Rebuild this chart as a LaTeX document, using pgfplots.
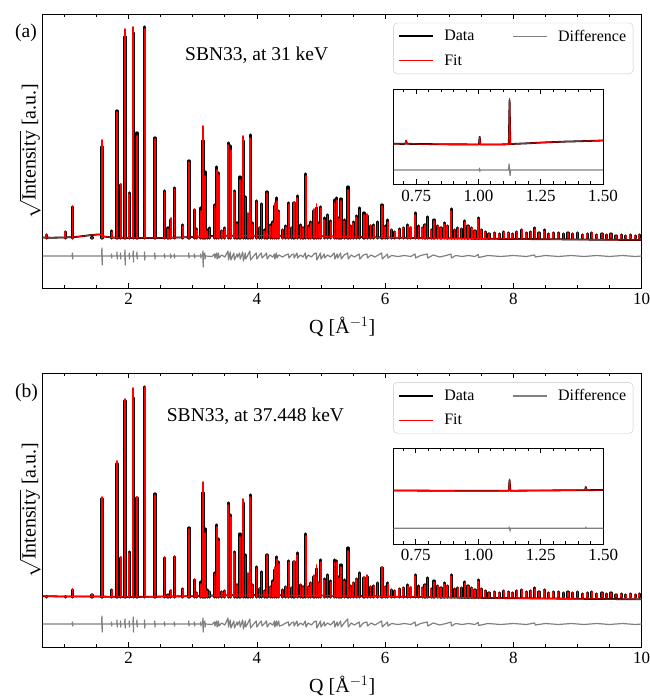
\documentclass[border=0pt]{standalone}
\usepackage{fontspec}
\setmainfont{Liberation Serif}
\usepackage{pgfplots}
\usepackage{pgfplotstable}
\pgfplotsset{compat=1.18}
\definecolor{fitred}{rgb}{1,0,0}
\definecolor{diffgray}{rgb}{0.5,0.5,0.5}

\pgfplotstableread{
Q Da Fa Db Fb
0.714 3 3.5 0.5 0.5
1.010 6 6.5 0.5 0.5
1.125 31 32 7 8
1.430 0.5 0.5 2 2.5
1.585 91 98 98 100
1.735 7 6 7 7
1.820 127 126 133 136
1.875 53 54 39 40
1.944 201 209 196 198
2.011 45 44 45 44
2.073 205 211 199 209
2.131 105 102 99 100
2.250 211 209 210 210
2.410 100 99 103 102
2.560 47 46 39 40
2.615 10 9 2 2
2.656 18 20 6 7
2.714 50 49 40 41
2.844 13 12 8 8
2.940 77 76 69 68
3.027 28 29 17 18
3.063 9 8 4 4
3.125 30 27 15 13
3.160 97 112 104 115
3.190 66 62 68 64
3.225 8 7 7 6
3.260 10 9 5 5
3.340 33 32 24 23
3.375 71 68 72 70
3.406 65 63 58 56
3.450 7 7 5 5
3.500 10 9 6 6
3.553 95 93 94 92
3.590 92 88 82 80
3.647 47 46 45 44
3.690 15 14 12 12
3.735 61 58 63 60
3.787 97 102 94 98
3.823 41 40 42 40
3.860 22 25 20 24
3.896 103 100 102 100
3.930 15 14 12 12
3.995 37 36 30 29
4.040 10 11 8 9
4.073 34 33 25 24
4.115 8 7 6 6
4.156 46 45 42 42
4.210 13 12 10 10
4.245 16 15 16 15
4.277 32 35 27 30
4.308 40 37 40 38
4.340 27 26 35 33
4.400 8 8 7 7
4.450 12 11 10 10
4.495 35 34 36 35
4.540 10 10 9 9
4.578 35 36 35 36
4.630 42 40 44 42
4.680 13 12 12 12
4.720 10 10 10 10
4.760 64 62 63 61
4.810 12 11 10 10
4.840 16 15 14 14
4.890 27 29 20 22
4.930 30 34 28 32
4.965 15 14 14 14
4.995 31 30 37 35
5.050 20 18 18 17
5.100 23 22 22 21
5.150 17 16 16 15
5.210 38 36 37 35
5.245 40 38 36 35
5.280 20 19 20 19
5.310 39 37 32 30
5.360 18 17 17 16
5.420 51 48 49 46
5.460 12 12 11 11
5.500 16 15 14 14
5.550 22 21 18 18
5.600 30 28 24 23
5.670 25 23 19 20
5.720 22 24 20 22
5.770 12 13 10 11
5.820 13 12 11 11
5.880 16 15 14 14
5.950 33 32 29 30
6.000 12 11 10 10
6.040 18 16 14 13
6.100 8 8 7 7
6.150 6 6 6 6
6.220 9 8 8 8
6.280 10 10 9 9
6.350 13 12 12 11
6.400 10 11 9 10
6.470 25 23 22 21
6.520 12 11 11 10
6.580 10 10 9 9
6.620 13 13 12 12
6.660 21 20 19 18
6.720 8 8 8 8
6.760 18 17 16 15
6.820 12 12 11 11
6.870 10 10 9 9
6.920 15 14 14 13
6.970 12 12 11 11
7.030 29 27 22 21
7.080 8 8 8 8
7.130 10 10 9 9
7.190 9 9 9 9
7.240 17 16 15 14
7.290 12 12 11 11
7.350 10 10 9 9
7.400 7 7 7 7
7.450 20 19 17 16
7.500 8 8 8 8
7.560 6 6 6 6
7.620 4 4 4 4
7.700 5 5 5 5
7.780 4 4 4 4
7.850 6 6 6 6
7.920 5 5 5 5
7.980 4 4 4 4
8.050 6 6 6 6
8.130 8 8 7 7
8.200 5 5 5 5
8.270 6 6 6 6
8.330 10 9 9 8
8.400 5 5 5 5
8.480 8 7 7 7
8.550 4 4 4 4
8.620 5 5 5 5
8.700 5 5 5 5
8.780 4 4 4 4
8.850 5 5 5 5
8.920 4 4 4 4
9.000 5 5 5 5
9.080 3 3 3 3
9.150 4 4 4 4
9.220 5 5 5 5
9.300 3 3 3 3
9.380 4 4 4 4
9.450 3 3 3 3
9.520 4 4 4 4
9.600 2 2 2 2
9.680 3 3 3 3
9.750 2 2 2 2
9.820 3 3 3 3
9.900 2 2 2 2
9.960 3 3 3 3
}\peaks

\pgfplotsset{
  base/.style={
    scale only axis,
    axis line style={line width=0.9pt},
    every tick/.style={black, line width=0.8pt},
    major tick length=5pt, minor tick length=3pt,
    tick align=inside, xtick pos=both, xticklabel pos=lower,
    ytick=\empty,
    tick label style={font=\fontsize{17}{20}\selectfont},
    xticklabel style={yshift=-2pt},
    /pgf/number format/assume math mode=true,
  },
  mainax/.style={base,
    width=599pt, height=274pt,
    xmin=0.66, xmax=10, ymin=-50, ymax=224,
    xtick={2,4,6,8,10},
    minor xtick={1,1.5,2.5,3,3.5,4.5,5,5.5,6.5,7,7.5,8.5,9,9.5},
    xlabel={Q [Å$^{-1}$]},
    xlabel style={font=\fontsize{20}{24}\selectfont, at={(axis description cs:0.5,-0.142)}, anchor=center},
    ylabel={$\sqrt{\mbox{Intensity}}$ [a.u.]},
    ylabel style={font=\fontsize{20}{24}\selectfont, inner sep=0pt, at={(axis description cs:-0.0396,0.5)}, anchor=north},
    legend columns=2, transpose legend, legend cell align=left,
    legend image code/.code={\draw[##1] (0pt,0pt) -- (34pt,0pt);},
    legend style={anchor=north east, draw=black!22, rounded corners=4pt,
      fill=white, text=black, font=\fontsize{16}{19}\selectfont, inner xsep=5pt, inner ysep=5pt, row sep=8pt,
      /tikz/every odd column/.append style={column sep=8pt},
      /tikz/every even column/.append style={column sep=36pt}},
  },
  insetax/.style={base,
    xmin=0.66, xmax=1.5,
    xtick={0.75,1,1.25,1.5}, xticklabels={0.75,1.00,1.25,1.50},
    minor xtick={0.7,0.8,0.85,0.9,0.95,1.05,1.1,1.15,1.2,1.3,1.35,1.4,1.45},
    axis background/.style={fill=white},
  },
  stickD/.style={ycomb, black, line width=3.2pt, line cap=round, no markers, forget plot},
  stickF/.style={ycomb, fitred, line width=1.8pt, line cap=round, no markers, forget plot},
  lineD/.style={black, line width=1.8pt, line join=round, forget plot},
  lineF/.style={fitred, line width=1pt, line join=round, forget plot},
  lineR/.style={diffgray, line width=1.2pt, line join=round, forget plot},
}

\begin{document}
\begin{tikzpicture}
\useasboundingbox (0,0) rectangle (649pt,696pt);

% ---------------- panel (a) ----------------
\begin{axis}[mainax, at={(42.7pt,408pt)}, anchor=south west, legend style={at={(0.986,0.968)}}]
\addplot[stickD] table[x=Q,y=Da]{\peaks};
\addplot[lineD] coordinates {(0.66,0.5)(0.8,0.3)(1.0,0.5)(1.1,0.8)(1.2,1.2)(1.3,2.0)(1.4,2.8)(1.5,3.4)(1.57,3.6)(1.585,2.5)(1.6,1.6)(1.7,0.8)(1.8,0.2)(2.0,0)(2.5,0)(2.8,0.5)(3.0,1)(3.2,1.8)(3.5,2.2)(4.0,2.3)(4.5,2.2)(5.0,1.8)(5.5,1.2)(6.0,0.5)(6.5,0)(7.0,-0.4)(7.5,-0.7)(8.0,-1)(8.5,-1.2)(9.0,-1.5)(9.5,-1.8)(10,-2)};
\addplot[lineR] coordinates {(0.66,-18)(1.12,-18)(1.123,-15)(1.127,-21)(1.13,-18)(1.58,-18)(1.583,-10)(1.587,-27)(1.59,-18)(1.73,-18)(1.733,-16)(1.737,-20)(1.74,-18)(1.815,-18)(1.818,-14)(1.822,-21)(1.825,-18)(1.87,-18)(1.873,-15)(1.877,-21)(1.88,-18)(1.939,-18)(1.942,-12)(1.946,-27)(1.949,-18)(2.006,-18)(2.009,-15)(2.013,-21)(2.016,-18)(2.068,-18)(2.071,-13)(2.075,-24)(2.078,-18)(2.126,-18)(2.129,-14)(2.133,-21)(2.136,-18)(2.245,-18)(2.248,-14)(2.252,-22)(2.255,-18)(2.405,-18)(2.408,-15)(2.412,-21)(2.415,-18)(2.555,-18)(2.558,-16)(2.562,-20)(2.565,-18)(2.65,-18)(2.654,-16)(2.658,-20)(2.662,-18)(2.71,-18)(2.712,-16)(2.716,-20)(2.72,-18)(2.935,-18)(2.938,-15)(2.942,-20)(2.945,-18)(3.02,-18)(3.025,-16)(3.029,-20)(3.035,-18)(3.12,-18)(3.123,-16)(3.127,-20)(3.13,-18)(3.155,-18)(3.158,-13)(3.162,-29)(3.165,-18)(3.188,-15)(3.192,-21)(3.2,-18)(3.3,-18.5)(3.34,-16)(3.345,-20)(3.37,-15)(3.38,-21)(3.4,-15)(3.41,-20)(3.45,-17)(3.5,-19)(3.55,-13)(3.557,-22)(3.585,-14)(3.595,-22)(3.64,-15)(3.65,-22)(3.69,-16)(3.7,-19)(3.73,-15)(3.74,-21)(3.78,-14)(3.79,-23)(3.82,-15)(3.826,-21)(3.86,-17)(3.89,-13)(3.9,-22)(3.95,-18)(3.99,-15)(4.0,-21)(4.04,-17)(4.07,-15)(4.08,-20)(4.12,-17.5)(4.15,-15)(4.16,-21)(4.2,-17)(4.25,-19)(4.275,-16)(4.28,-21)(4.305,-15)(4.312,-20)(4.34,-17)(4.4,-19)(4.45,-17)(4.49,-16)(4.5,-20)(4.54,-17)(4.575,-16)(4.58,-20)(4.625,-15)(4.635,-20)(4.68,-17)(4.72,-19)(4.755,-15)(4.765,-21)(4.8,-17)(4.85,-19)(4.89,-16)(4.925,-15)(4.935,-22)(4.99,-15)(5.0,-21)(5.05,-16)(5.06,-20)(5.1,-17)(5.15,-19)(5.205,-15)(5.215,-21)(5.25,-16)(5.26,-20)(5.305,-15)(5.315,-21)(5.36,-17)(5.415,-15)(5.425,-21)(5.47,-17)(5.52,-19)(5.595,-16)(5.605,-21)(5.66,-17)(5.715,-16)(5.725,-20)(5.78,-17)(5.84,-19)(5.945,-15)(5.955,-21)(6.035,-16)(6.045,-20)(6.1,-17.5)(6.2,-18.5)(6.3,-17.5)(6.4,-18.5)(6.465,-16)(6.475,-20)(6.55,-17.5)(6.655,-16)(6.665,-20)(6.75,-17)(6.85,-19)(6.95,-17.5)(7.025,-16)(7.035,-20)(7.1,-17.5)(7.2,-18.5)(7.3,-17.5)(7.4,-18.5)(7.45,-16.5)(7.46,-19.5)(7.6,-17.5)(7.8,-18.5)(8.0,-17.5)(8.2,-18.5)(8.33,-17)(8.34,-19)(8.5,-17.5)(8.7,-18.5)(8.9,-17.5)(9.1,-18.5)(9.3,-17.5)(9.5,-18.5)(9.7,-17.5)(9.9,-18.5)(10,-18)};
\addplot[lineF] coordinates {(0.66,0.5)(0.8,0.3)(1.0,0.5)(1.1,0.8)(1.2,1.2)(1.3,2.0)(1.4,2.8)(1.5,3.4)(1.57,3.6)(1.585,2.5)(1.6,1.6)(1.7,0.8)(1.8,0.2)(2.0,0)(2.5,0)(2.8,0.5)(3.0,1)(3.2,1.8)(3.5,2.2)(4.0,2.3)(4.5,2.2)(5.0,1.8)(5.5,1.2)(6.0,0.5)(6.5,0)(7.0,-0.4)(7.5,-0.7)(8.0,-1)(8.5,-1.2)(9.0,-1.5)(9.5,-1.8)(10,-2)};
\addplot[stickF] table[x=Q,y=Fa]{\peaks};
\addlegendimage{draw=black, line width=2pt}\addlegendentry{Data}
\addlegendimage{draw=fitred, line width=1.3pt}\addlegendentry{Fit}
\addlegendimage{draw=diffgray, line width=1.5pt}\addlegendentry{Difference}
\end{axis}

\begin{axis}[insetax, at={(393.7pt,511.7pt)}, anchor=south west, width=209.3pt, height=95.3pt, ymin=0, ymax=95.3]
\addplot[black, line width=1.8pt, line join=round] coordinates {(0.66,40.5)(0.70,40.4)(0.707,40.5)(0.71,43.5)(0.713,40.5)(0.75,40.3)(0.8,40.2)(0.85,40)(0.9,39.9)(0.95,39.9)(1.0,39.8)(1.002,39.8)(1.005,47.5)(1.008,39.8)(1.05,39.8)(1.1,39.9)(1.122,40)(1.125,84)(1.128,40.2)(1.15,40.5)(1.2,41)(1.25,41.7)(1.3,42.2)(1.35,42.7)(1.4,43)(1.45,43.4)(1.5,43.8)};
\addplot[diffgray, line width=1.2pt] coordinates {(0.66,14.3)(1.002,14.3)(1.004,15.3)(1.006,13.3)(1.008,14.3)(1.121,14.3)(1.123,20.5)(1.127,8.5)(1.129,14.3)(1.5,14.3)};
\addplot[fitred, line width=1pt, line join=round] coordinates {(0.66,40.5)(0.70,40.4)(0.707,40.5)(0.71,44)(0.713,40.5)(0.75,40.3)(0.8,40.2)(0.85,40)(0.9,39.9)(0.95,39.9)(1.0,39.8)(1.002,39.8)(1.005,47)(1.008,39.8)(1.05,39.8)(1.1,39.9)(1.122,40)(1.125,86)(1.128,40.2)(1.15,40.5)(1.2,41)(1.25,41.7)(1.3,42.2)(1.35,42.7)(1.4,43)(1.45,43.4)(1.5,43.8)};
\end{axis}

% ---------------- panel (b) ----------------
\begin{axis}[mainax, at={(42.7pt,49pt)}, anchor=south west, legend style={at={(0.986,0.9665)}}]
\addplot[stickD] table[x=Q,y=Db]{\peaks};
\addplot[lineD] coordinates {(0.66,0.8)(1.0,0.5)(1.5,0.5)(2.0,0)(3.0,0.8)(3.5,1.8)(4.0,2)(5.0,1.5)(6.0,0.5)(7.0,-0.5)(8.0,-1.2)(9.0,-1.8)(10,-2.3)};
\addplot[lineR] coordinates {(0.66,-27)(1.12,-27)(1.123,-25)(1.127,-29)(1.13,-27)(1.58,-27)(1.583,-19)(1.587,-35)(1.59,-27)(1.73,-27)(1.733,-25)(1.737,-29)(1.74,-27)(1.815,-27)(1.818,-23)(1.822,-30)(1.825,-27)(1.87,-27)(1.873,-24)(1.877,-30)(1.88,-27)(1.939,-27)(1.942,-22)(1.946,-31)(1.949,-27)(2.006,-27)(2.009,-24)(2.013,-30)(2.016,-27)(2.068,-27)(2.071,-20)(2.075,-35)(2.078,-27)(2.126,-27)(2.129,-23)(2.133,-30)(2.136,-27)(2.245,-27)(2.248,-23)(2.252,-31)(2.255,-27)(2.405,-27)(2.408,-24)(2.412,-30)(2.415,-27)(2.555,-27)(2.558,-25)(2.562,-29)(2.565,-27)(2.71,-27)(2.712,-25)(2.716,-29)(2.72,-27)(2.935,-27)(2.938,-24)(2.942,-29)(2.945,-27)(3.02,-27)(3.025,-25)(3.029,-29)(3.035,-27)(3.12,-27)(3.123,-25)(3.127,-29)(3.13,-27)(3.155,-27)(3.158,-21)(3.162,-35)(3.165,-27)(3.188,-24)(3.192,-30)(3.2,-27)(3.3,-27.5)(3.34,-25)(3.345,-29)(3.37,-24)(3.38,-30)(3.4,-24)(3.41,-29)(3.45,-26)(3.5,-28)(3.55,-21)(3.557,-30)(3.585,-23)(3.595,-31)(3.64,-24)(3.65,-31)(3.69,-25)(3.7,-28)(3.73,-24)(3.74,-30)(3.78,-23)(3.79,-32)(3.82,-24)(3.826,-30)(3.86,-26)(3.89,-22)(3.9,-31)(3.95,-27)(3.99,-24)(4.0,-30)(4.04,-26)(4.07,-24)(4.08,-29)(4.12,-26.5)(4.15,-24)(4.16,-30)(4.2,-26)(4.25,-28)(4.275,-24)(4.28,-30)(4.305,-24)(4.312,-29)(4.34,-24)(4.35,-29)(4.4,-28)(4.45,-26)(4.49,-25)(4.5,-29)(4.54,-26)(4.575,-25)(4.58,-29)(4.625,-24)(4.635,-29)(4.68,-26)(4.72,-28)(4.755,-24)(4.765,-30)(4.8,-26)(4.85,-28)(4.89,-25)(4.925,-24)(4.935,-31)(4.99,-24)(5.0,-30)(5.05,-25)(5.06,-29)(5.1,-26)(5.15,-28)(5.205,-24)(5.215,-30)(5.25,-25)(5.26,-29)(5.305,-24)(5.315,-30)(5.36,-26)(5.415,-22)(5.425,-30)(5.47,-26)(5.52,-28)(5.595,-25)(5.605,-30)(5.66,-26)(5.715,-25)(5.725,-29)(5.78,-26)(5.84,-28)(5.945,-24)(5.955,-30)(6.035,-25)(6.045,-29)(6.1,-26.5)(6.2,-27.5)(6.3,-26.5)(6.4,-27.5)(6.465,-25)(6.475,-29)(6.55,-26.5)(6.655,-25)(6.665,-29)(6.75,-26)(6.85,-28)(6.95,-26.5)(7.025,-25)(7.035,-29)(7.1,-26.5)(7.2,-27.5)(7.3,-26.5)(7.4,-27.5)(7.45,-25.5)(7.46,-28.5)(7.6,-26.5)(7.8,-27.5)(8.0,-26.5)(8.2,-27.5)(8.33,-26)(8.34,-28)(8.5,-26.5)(8.7,-27.5)(8.9,-26.5)(9.1,-27.5)(9.3,-26.5)(9.5,-27.5)(9.7,-26.5)(9.9,-27.5)(10,-27)};
\addplot[lineF] coordinates {(0.66,0.8)(1.0,0.5)(1.5,0.5)(2.0,0)(3.0,0.8)(3.5,1.8)(4.0,2)(5.0,1.5)(6.0,0.5)(7.0,-0.5)(8.0,-1.2)(9.0,-1.8)(10,-2.3)};
\addplot[stickF] table[x=Q,y=Fb]{\peaks};
\addlegendimage{draw=black, line width=2pt}\addlegendentry{Data}
\addlegendimage{draw=fitred, line width=1.3pt}\addlegendentry{Fit}
\addlegendimage{draw=diffgray, line width=1.5pt}\addlegendentry{Difference}
\end{axis}

\begin{axis}[insetax, at={(393.3pt,152pt)}, anchor=south west, width=210pt, height=95.7pt, ymin=0, ymax=95.7]
\addplot[black, line width=1.8pt, line join=round] coordinates {(0.66,53.5)(0.75,53.4)(0.85,53.3)(0.95,53.2)(1.05,53.2)(1.122,53.3)(1.125,64)(1.128,53.3)(1.2,53.4)(1.3,53.6)(1.427,53.8)(1.43,57)(1.433,53.8)(1.5,54)};
\addplot[diffgray, line width=1.2pt] coordinates {(0.66,15.7)(1.121,15.7)(1.123,16.5)(1.127,13.5)(1.129,15.7)(1.428,15.7)(1.43,16.5)(1.432,15.7)(1.5,15.7)};
\addplot[fitred, line width=1pt, line join=round] coordinates {(0.66,53.5)(0.75,53.4)(0.85,53.3)(0.95,53.2)(1.05,53.2)(1.122,53.3)(1.125,65)(1.128,53.3)(1.2,53.4)(1.3,53.6)(1.427,53.8)(1.43,56.5)(1.433,53.8)(1.5,54)};
\end{axis}

\node[anchor=west, inner sep=0pt, font=\fontsize{19.5}{23}\selectfont] at (15pt,662.7pt) {(a)};
\node[anchor=west, inner sep=0pt, font=\fontsize{19.5}{23}\selectfont] at (185pt,641pt) {SBN33, at 31 keV};
\node[anchor=west, inner sep=0pt, font=\fontsize{19.5}{23}\selectfont] at (15pt,302.7pt) {(b)};
\node[anchor=west, inner sep=0pt, font=\fontsize{19.5}{23}\selectfont] at (166.7pt,279.3pt) {SBN33, at 37.448 keV};
\end{tikzpicture}
\end{document}
